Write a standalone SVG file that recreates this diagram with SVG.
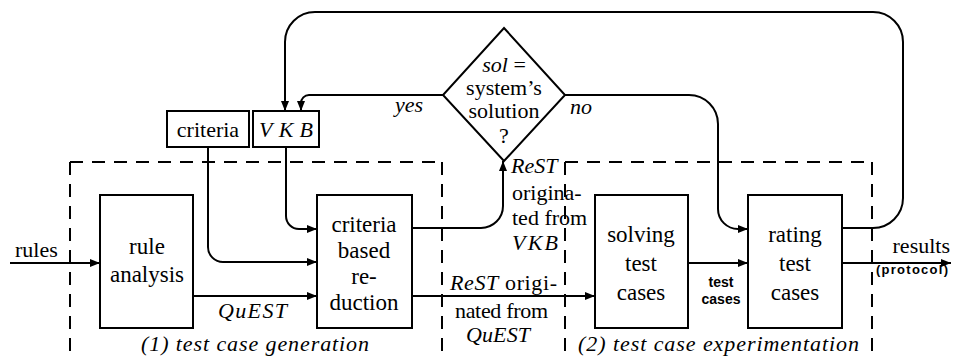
<svg xmlns="http://www.w3.org/2000/svg" width="954" height="360" viewBox="0 0 954 360" font-family="Liberation Serif, serif">
<style>
.box{fill:#fff;stroke:#000;stroke-width:2}
.dash{fill:none;stroke:#000;stroke-width:2;stroke-dasharray:13 9}
.c{fill:none;stroke:#000;stroke-width:2}
text{font-family:"Liberation Serif",serif;font-size:22px;fill:#000}
.m{text-anchor:middle}
.i{font-style:italic}
text.s{font-family:"Liberation Sans",sans-serif;font-weight:bold}
</style>
<defs>
<marker id="ah" markerUnits="userSpaceOnUse" markerWidth="10" markerHeight="8" refX="10" refY="4" orient="auto">
<path d="M0,0 L10,4 L0,8 z" fill="#000"/>
</marker>
</defs>
<rect width="954" height="360" fill="#fff"/>
<g id="phase1">
<path class="dash" d="M70,162 V360"/>
<path class="dash" d="M70,162 H442"/>
<path class="dash" d="M442,162 V360"/>
<text class="i" x="141" y="351" textLength="228">(1) test case generation</text>
</g>
<g id="phase2">
<path class="dash" d="M565,162 V360"/>
<path class="dash" d="M565,162 H872"/>
<path class="dash" d="M872,162 V360"/>
<text class="i" x="578" y="351" textLength="281">(2) test case experimentation</text>
</g>
<g id="connectors">
<path class="c" d="M842,228 H873 A30,30 0 0 0 903,198 V42 A30,30 0 0 0 873,12 H315 A30,30 0 0 0 285,42 V111" marker-end="url(#ah)"/>
<path class="c" d="M443,95 H309 A8,8 0 0 0 301,103 V111" marker-end="url(#ah)"/>
<path class="c" d="M565,95 H689 A29,29 0 0 1 718,124 V209 A20,20 0 0 0 738,229 H748" marker-end="url(#ah)"/>
<path class="c" d="M208,147 V247 A15,15 0 0 0 223,262 H317" marker-end="url(#ah)"/>
<path class="c" d="M286,147 V216 A13,13 0 0 0 299,229 H317" marker-end="url(#ah)"/>
<path class="c" d="M10,263 H100" marker-end="url(#ah)"/>
<path class="c" d="M193,296 H317" marker-end="url(#ah)"/>
<path class="c" d="M412,228 H481 A22,22 0 0 0 503,206 V161" marker-end="url(#ah)"/>
<path class="c" d="M412,296 H595" marker-end="url(#ah)"/>
<path class="c" d="M688,263 H748" marker-end="url(#ah)"/>
<path class="c" d="M842,263 H951" marker-end="url(#ah)"/>
<text x="15" y="257">rules</text>
<text class="i" x="395" y="112">yes</text>
<text class="i" x="570" y="114">no</text>
<text class="i" x="218" y="318" textLength="69">QuEST</text>
<text x="450" y="290" textLength="107"><tspan font-style="italic">ReST</tspan> origi-</text>
<text x="455" y="318" textLength="93">nated from</text>
<text class="i" x="466" y="342" textLength="64">QuEST</text>
<text class="i" x="511" y="173">ReST</text>
<text x="512" y="200">origina-</text>
<text x="512" y="225">ted from</text>
<text class="i" x="512" y="250" textLength="46">VKB</text>
<text class="s m" x="721" y="287" style="font-size:14px">test</text>
<text class="s m" x="721" y="304" style="font-size:14px">cases</text>
<text x="950" y="253" text-anchor="end">results</text>
<text class="s" x="876" y="274" style="font-size:13px" textLength="72">(protocol)</text>
</g>
<g id="criteria">
<rect class="box" x="167" y="111" width="82" height="36"/>
<text class="m" x="208" y="137">criteria</text>
</g>
<g id="vkb">
<rect class="box" x="253" y="111" width="66" height="36"/>
<text class="i" x="259" y="137" textLength="54">VKB</text>
</g>
<g id="decision">
<polygon class="box" points="504,28 565,95 504,161 443,95"/>
<text class="m" x="504" y="72"><tspan font-style="italic">sol</tspan> =</text>
<text class="m" x="504" y="95">system’s</text>
<text class="m" x="504" y="118">solution</text>
<text class="m" x="504" y="143">?</text>
</g>
<g id="rule-analysis">
<rect class="box" x="100" y="195" width="93" height="133"/>
<text class="m" x="147" y="254" style="font-size:23px">rule</text>
<text class="m" x="147" y="282" style="font-size:23px">analysis</text>
</g>
<g id="reduction">
<rect class="box" x="317" y="195" width="95" height="133"/>
<text class="m" x="364" y="232" style="font-size:23px">criteria</text>
<text class="m" x="364" y="258" style="font-size:23px">based</text>
<text class="m" x="364" y="284" style="font-size:23px">re-</text>
<text class="m" x="364" y="310" style="font-size:23px">duction</text>
</g>
<g id="solving">
<rect class="box" x="595" y="195" width="93" height="133"/>
<text class="m" x="641" y="242" style="font-size:23px">solving</text>
<text class="m" x="641" y="271" style="font-size:23px">test</text>
<text class="m" x="641" y="300" style="font-size:23px">cases</text>
</g>
<g id="rating">
<rect class="box" x="748" y="195" width="94" height="133"/>
<text class="m" x="795" y="242" style="font-size:23px">rating</text>
<text class="m" x="795" y="271" style="font-size:23px">test</text>
<text class="m" x="795" y="300" style="font-size:23px">cases</text>
</g>
</svg>
